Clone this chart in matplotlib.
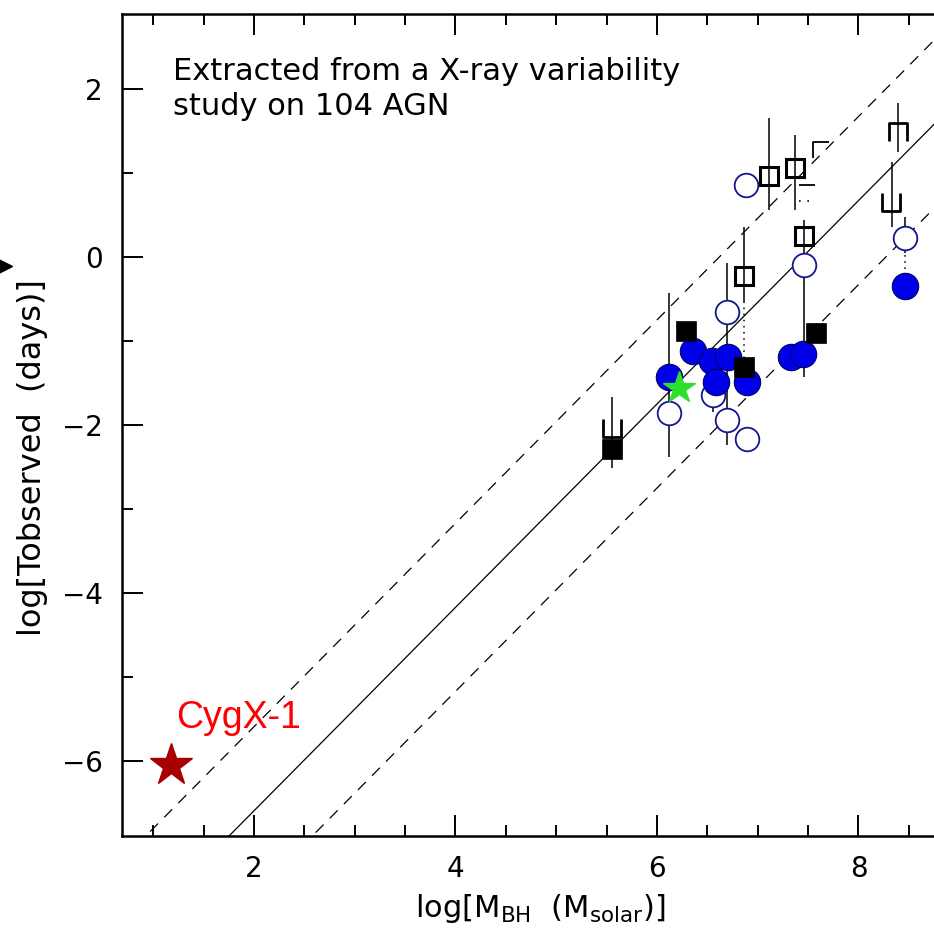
import matplotlib
matplotlib.use("Agg")
import matplotlib.pyplot as plt
import numpy as np
from matplotlib.path import Path
from matplotlib.lines import Line2D

# log M_BH vs log T_observed for the AGN sample
filled_sq_x = [5.55, 6.29, 6.86, 7.58]
filled_sq_y = [-2.29, -0.88, -1.31, -0.90]

open_sq_x = [6.86, 7.11, 7.37, 7.46]
open_sq_y = [-0.23, 0.96, 1.06, 0.25]

filled_circ_x = [6.12, 6.36, 6.55, 6.70, 6.59, 6.89, 7.33, 7.45, 8.46]
filled_circ_y = [-1.43, -1.12, -1.24, -1.19, -1.49, -1.49, -1.19, -1.16, -0.35]

open_circ_x = [6.88, 7.46, 6.69, 6.12, 6.56, 6.69, 6.89, 8.46]
open_circ_y = [0.86, -0.10, -0.65, -1.86, -1.64, -1.94, -2.17, 0.23]

# vertical error bars: x, upper end, lower end
err_x = [5.55, 6.12, 6.56, 6.69, 6.86, 7.11, 7.37, 7.46, 7.58, 8.39, 8.33, 8.46, 8.46]
err_hi = [-1.67, -0.43, -1.35, -0.07, 0.35, 1.65, 1.45, 0.44, -0.79, 1.83, 1.13, 0.48, -0.21]
err_lo = [-2.51, -2.38, -1.85, -2.24, -0.55, 0.56, 0.56, -1.43, -1.02, 1.25, 0.36, 0.05, -0.51]

# dotted links between paired measurements
link_x = [6.86, 8.46]
link_hi = [-0.55, 0.05]
link_lo = [-1.20, -0.21]

# limit symbols
cup_x = [5.55, 8.32]
cup_y = [-2.04, 0.65]
cap_x = [8.39]
cap_y = [1.49]
corner_x = [7.63]
corner_y = [1.27]
dash_x = [7.49]
dash_y = [0.85]
dotrow_y = [0.67]

# galactic black hole and the extra AGN
cyg_x, cyg_y = 1.18, -6.05
star_x, star_y = 6.22, -1.56

# best-fit relation and its scatter band
slope = 1.21
intercept = -9.01
band = 1.0

xlim = (0.69, 9.0)
ylim = (-6.89, 2.89)

W, H = 934, 931
fig = plt.figure(figsize=(W / 100, H / 100), dpi=100)
ppu = 100.75  # pixels per x unit
ax = fig.add_axes([122 / W, (H - 836) / H, (xlim[1] - xlim[0]) * ppu / W, 822 / H])
ax.set_xlim(*xlim)
ax.set_ylim(*ylim)

xs = np.array(xlim)
ax.plot(xs, slope * xs + intercept, color="black", lw=0.9, zorder=1)
for s in (band, -band):
    ax.plot(xs, slope * xs + intercept + s, color="black", lw=0.9,
            dashes=(9, 7), zorder=1)

ax.vlines(err_x, err_lo, err_hi, color="black", lw=1.1, zorder=2)
ax.vlines(link_x, link_lo, link_hi, color="black", lw=1.1,
          linestyles=(0, (1, 3)), zorder=2)

cup = Path([(-1, 1), (-1, -1), (1, -1), (1, 1)])
cap = Path([(-1, -1), (-1, 1), (1, 1), (1, -1)])
corner = Path([(-1, -1), (-1, 1), (1, 1)])
ax.plot(cup_x, cup_y, ls="none", marker=cup, ms=13, mfc="none",
        mec="black", mew=2.0, zorder=3)
ax.plot(cap_x, cap_y, ls="none", marker=cap, ms=13, mfc="none",
        mec="black", mew=2.0, zorder=3)
ax.plot(corner_x, corner_y, ls="none", marker=corner, ms=11, mfc="none",
        mec="black", mew=1.3, zorder=3)
ax.plot(dash_x, dash_y, ls="none", marker="_", ms=12, mec="black",
        mew=1.3, zorder=3)
ax.hlines(dotrow_y, np.array(dash_x) - 0.08, np.array(dash_x) + 0.08,
          color="black", lw=1.2, linestyles=(0, (1, 4)), zorder=3)

ax.plot(open_circ_x, open_circ_y, ls="none", marker="o", ms=17,
        mfc="white", mec="#15158f", mew=1.3, zorder=4)
ax.plot(filled_circ_x, filled_circ_y, ls="none", marker="o", ms=19,
        mfc="#0000e8", mec="#000060", mew=0.8, zorder=5)
ax.plot(open_sq_x, open_sq_y, ls="none", marker="s", ms=13,
        mfc="none", mec="black", mew=2.2, zorder=5)
ax.plot(filled_sq_x, filled_sq_y, ls="none", marker="s", ms=14.5,
        mfc="black", mec="black", mew=0.5, zorder=5)
ax.plot([star_x], [star_y], ls="none", marker="*", ms=24,
        mfc="#2ee02e", mec="#2ee02e", zorder=6)
ax.plot([cyg_x], [cyg_y], ls="none", marker="*", ms=32,
        mfc="#a80000", mec="#a80000", zorder=6)

ax.text(1.23, -5.6, "CygX-1", color="red", fontsize=27,
        family="Liberation Sans", ha="left", va="baseline")
ax.text(1.2, 2.0, "Extracted from a X-ray variability\nstudy on 104 AGN",
        fontsize=22, family="DejaVu Sans", ha="left", va="center",
        linespacing=1.25)

ax.set_xticks([2, 4, 6, 8])
ax.set_xticks(np.arange(1.0, 9.01, 0.5), minor=True)
ax.set_yticks([-6, -4, -2, 0, 2])
ax.set_yticks(np.arange(-6, 2.01, 1), minor=True)
ax.tick_params(which="both", direction="in", top=True, right=False,
               width=1.4, labelsize=20, pad=14)
ax.tick_params(which="major", length=15)
ax.tick_params(which="minor", length=8)
for sp in ax.spines.values():
    sp.set_linewidth(1.8)

ax.set_xlabel(r"log[M$_{\mathrm{BH}}$  (M$_{\mathrm{solar}}$)]", fontsize=22,
              labelpad=6)
fig.text(33 / W, 1 - 458 / H, "log[Tobserved  (days)]", rotation=90,
         fontsize=23, ha="center", va="center")

# marker left over at the figure edge
fig.add_artist(Line2D([4 / W], [1 - 266 / H], marker=">", ms=11,
                      color="black", ls="none", transform=fig.transFigure))

fig.savefig("out.png", dpi=100)
